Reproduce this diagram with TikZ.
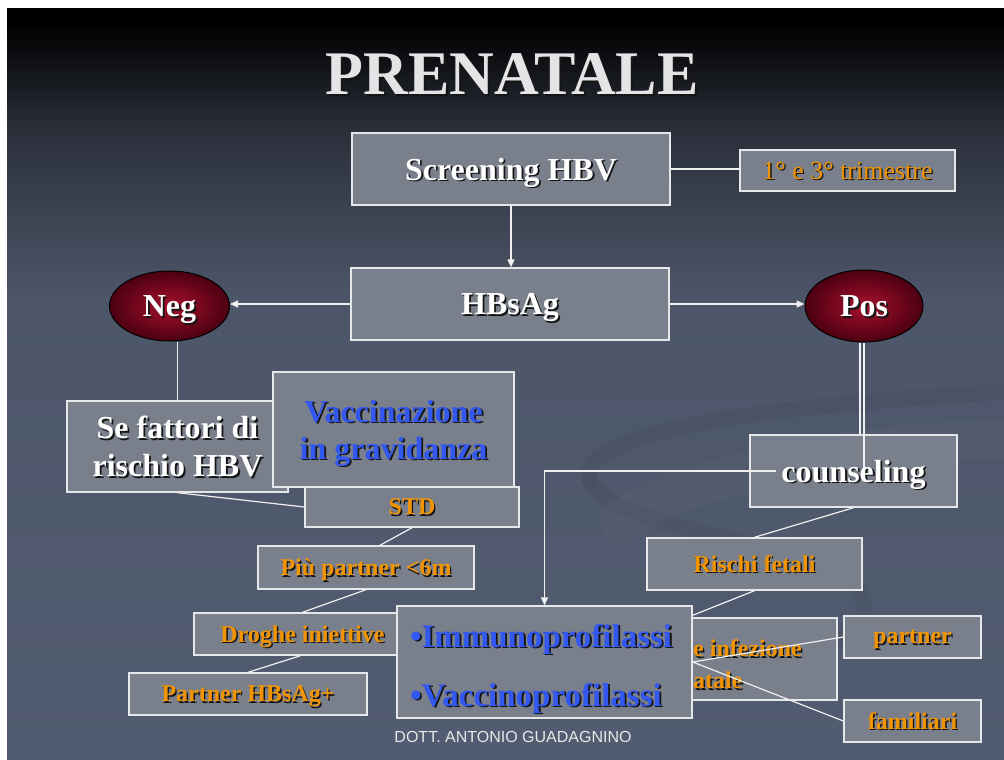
\documentclass[tikz,border=0pt]{standalone}
\usepackage{fontspec}
\setmainfont{Liberation Serif}
\newfontfamily\footfont{Liberation Sans}
\usetikzlibrary{arrows.meta,calc,shapes.geometric}

\definecolor{boxgray}{HTML}{7A7F8C}
\definecolor{boxedge}{HTML}{E6E7EA}
\definecolor{linec}{HTML}{F0F0F0}
\definecolor{orangec}{HTML}{F29400}
\definecolor{bluec}{HTML}{3358F0}
\definecolor{titlec}{HTML}{E4E4E6}
\definecolor{shadowc}{HTML}{151515}
\definecolor{bgbot}{HTML}{525C70}
\definecolor{bgmid}{HTML}{4D5669}
\definecolor{bgupper}{HTML}{2B303B}
\definecolor{neginner}{HTML}{A8102C}
\definecolor{negouter}{HTML}{4C0012}
\definecolor{footc}{HTML}{E8E8E8}

\pgfdeclareverticalshading{slidebg}{100bp}{color(0bp)=(bgbot); color(25bp)=(bgbot); color(55.6bp)=(bgmid); color(66.9bp)=(bgupper); color(74bp)=(black); color(100bp)=(black)}

\newcommand\shd[3][1.8pt]{{\makebox[0pt][l]{\kern#1\raisebox{-#1}{\color{shadowc}#3}}\color{#2}#3}}

\tikzset{
  bxbase/.style={rectangle, fill=boxgray, draw=boxedge, line width=1.4pt, inner sep=0pt, align=center},
  bx/.style={bxbase, text depth=0pt},
  bigtxt/.style={font=\bfseries\fontsize{32}{38}\selectfont},
  smalltxt/.style={font=\bfseries\fontsize{24}{30}\selectfont},
  oval/.style={ellipse, draw=black, line width=1pt, inner sep=0pt, inner color=neginner, outer color=negouter, text depth=0pt},
  conn/.style={draw=linec, line width=1.2pt},
  arr/.style={conn, -{Triangle[length=8pt,width=7pt]}},
  swirl/.style={draw=black, opacity=0.04, line width=16pt, line cap=round}
}

\begin{document}
\begin{tikzpicture}[x=1pt,y=-1pt]
\useasboundingbox (0,0) rectangle (1004,760);
\fill[white] (0,0) rectangle (1004,760);
\shade[shading=slidebg] (7,9) rectangle (1004,760);

% faint swirl
\draw[swirl] (590,480) .. controls (575,430) and (780,405) .. (1004,392);
\draw[swirl] (590,480) .. controls (610,530) and (800,540) .. (850,580) .. controls (880,610) and (860,640) .. (800,650);
\draw[draw=white, opacity=0.02, line width=40pt, line cap=round] (620,520) .. controls (700,470) and (880,440) .. (1004,440);

% title
\node (title) at (512,75) {\bfseries\fontsize{62}{70}\selectfont\shd[2pt]{titlec}{PRENATALE}};

% boxes
\node[bx, bigtxt, minimum width=318pt, minimum height=72pt] (scr) at (511,169) {\shd{white}{Screening HBV}};
\node[bx, font=\fontsize{26}{30}\selectfont, minimum width=215pt, minimum height=41pt] (tri) at (847.5,170.5) {\shd[1.4pt]{orangec}{1° e 3° trimestre}};
\node[bx, bigtxt, minimum width=318pt, minimum height=72pt] (hbs) at (510,304) {\shd{white}{HBsAg}};
\node[oval, bigtxt, minimum width=120pt, minimum height=70pt] (negel) at (169.5,306) {\shd{white}{Neg}};
\node[oval, bigtxt, minimum width=118pt, minimum height=72pt] (posel) at (864,306) {\shd{white}{Pos}};

\node[bx, bigtxt, minimum width=221pt, minimum height=91pt] (sef) at (177.5,446.5) {\shd{white}{Se fattori di}\\\shd{white}{rischio HBV}};
\node[bx, font=\bfseries\fontsize{32}{37}\selectfont, minimum width=241pt, minimum height=115pt] (vac) at (393.5,429.5) {\shd{bluec}{Vaccinazione}\\\shd{bluec}{in gravidanza}};
\node[bx, smalltxt, minimum width=214pt, minimum height=40pt] (std) at (412,507) {\shd[1.4pt]{orangec}{STD}};
\node[bx, smalltxt, minimum width=216pt, minimum height=43pt] (piu) at (366,567.5) {\shd[1.4pt]{orangec}{Più partner <6m}};
\node[bx, smalltxt, minimum width=217pt, minimum height=42pt] (dro) at (302.5,634) {\shd[1.4pt]{orangec}{Droghe iniettive}};
\node[bx, smalltxt, minimum width=238pt, minimum height=42pt] (par) at (248,694) {\shd[1.4pt]{orangec}{Partner HBsAg+}};

\node[bx, bigtxt, minimum width=207pt, minimum height=72pt] (cou) at (853.5,471) {\shd{white}{counseling}};
\node[bx, smalltxt, minimum width=215pt, minimum height=52pt] (ris) at (754.5,564) {\shd[1.4pt]{orangec}{Rischi fetali}};
\node[bx, minimum width=197pt, minimum height=82pt] (inf) at (738.5,659) {};
\node[anchor=west, inner sep=0pt, align=left, font=\bfseries\fontsize{24}{32}\selectfont] (inftxt) at (693,665) {\shd[1.4pt]{orangec}{e infezione}\\\shd[1.4pt]{orangec}{atale}};
\node[bxbase, font=\bfseries\fontsize{33}{59}\selectfont, align=left, text width=269pt, inner xsep=13pt, minimum height=112pt] (imm) at (544.5,662) {\rule{0pt}{38pt}\shd{bluec}{•Immunoprofilassi}\\\shd{bluec}{•Vaccinoprofilassi}};
\node[bx, smalltxt, minimum width=137pt, minimum height=42pt] (ptn) at (912.5,637) {\shd[1.4pt]{orangec}{partner}};
\node[bx, smalltxt, minimum width=137pt, minimum height=42pt] (fam) at (912.5,721) {\shd[1.4pt]{orangec}{familiari}};

\node[font=\footfont\fontsize{16}{18}\selectfont, text=footc] (foot) at (513,737) {DOTT. ANTONIO GUADAGNINO};

% connectors
\draw[conn] (scr.east) -- (scr.east -| tri.west);
\draw[arr] (scr.south) -- (scr.south |- hbs.north);
\draw[arr] (hbs.west) -- (hbs.west -| negel.east);
\draw[arr] (hbs.east) -- (hbs.east -| posel.west);
\draw[conn] (sef.north) -- (sef.north |- negel.south);
\draw[conn] (sef.south) -- (std.west);
\draw[conn] (std.south) -- ($(piu.north)+(14,0)$);
\draw[conn] (piu.south) -- (dro.north);
\draw[conn] ($(dro.south)+(-2,0)$) -- (par.north);
\coordinate (pa) at ($(posel.south)+(-4,0)$);
\draw[conn] (pa) -- (pa |- cou.north);
\coordinate (pbe) at ($(cou.center)+(0,-3)$);
\draw[conn] (posel.south) -- (posel.south |- pbe);
\coordinate (cstart) at ($(cou.west)+(27,0)$);
\draw[arr] (cstart) -| (imm.north);
\draw[conn] (cou.south) -- (ris.north);
\draw[conn] (ris.south) -- ($(imm.north east)+(0,10)$);
\draw[conn] (imm.east) -- (ptn.west);
\draw[conn] (imm.east) -- (fam.west);
\end{tikzpicture}
\end{document}
